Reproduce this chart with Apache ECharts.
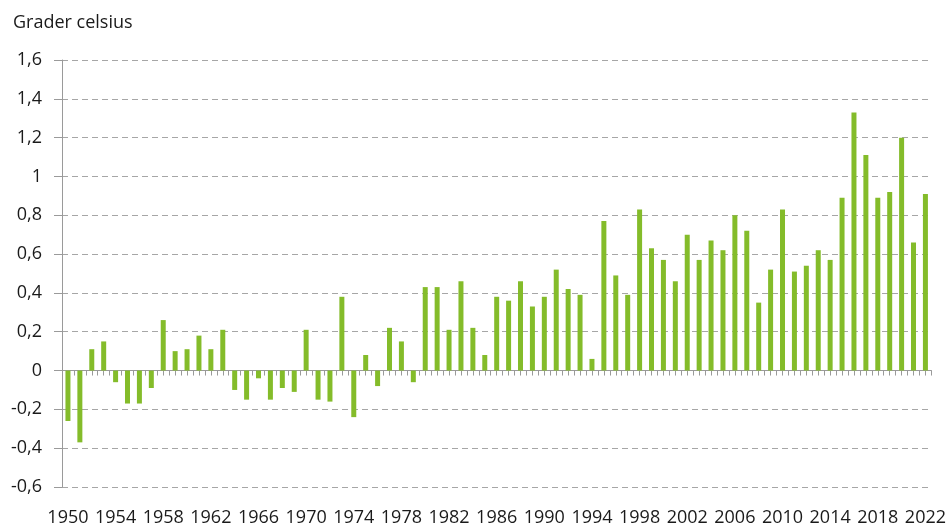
<!DOCTYPE html>
<html>
<head>
<meta charset="utf-8">
<script src="https://cdn.jsdelivr.net/npm/echarts@6/dist/echarts.min.js"></script>
<style>
html,body{margin:0;padding:0;background:#fff;}
#chart{width:949px;height:527px;}
</style>
</head>
<body>
<div id="chart"></div>
<script>
var years = [];
for (var y = 1950; y <= 2022; y++) years.push(String(y));

var anomalies = [
  -0.26, -0.37, 0.11, 0.15, -0.06, -0.17, -0.17, -0.09, 0.26, 0.10,
  0.11, 0.18, 0.11, 0.21, -0.10, -0.15, -0.04, -0.15, -0.09, -0.11,
  0.21, -0.15, -0.16, 0.38, -0.24, 0.08, -0.08, 0.22, 0.15, -0.06,
  0.43, 0.43, 0.21, 0.46, 0.22, 0.08, 0.38, 0.36, 0.46, 0.33,
  0.38, 0.52, 0.42, 0.39, 0.06, 0.77, 0.49, 0.39, 0.83, 0.63,
  0.57, 0.46, 0.70, 0.57, 0.67, 0.62, 0.80, 0.72, 0.35, 0.52,
  0.83, 0.51, 0.54, 0.62, 0.57, 0.89, 1.33, 1.11, 0.89, 0.92,
  1.20, 0.66, 0.91
];

var yMin = -0.6, yMax = 1.6, yStep = 0.2;
var unitLabel = 'Grader celsius';

var FONT = '"Open Sans", "Noto Sans", sans-serif';
var chart = echarts.init(document.getElementById('chart'), null, {renderer: 'canvas'});

function fmt(v) {
  return String(Number(v.toFixed(1))).replace('.', ',');
}

chart.setOption({
  animation: false,
  backgroundColor: '#ffffff',
  title: {
    text: unitLabel,
    left: 8, top: 9,
    textStyle: {fontFamily: FONT, fontSize: 18, fontWeight: 'normal', color: '#1a1a1a'}
  },
  grid: {left: 62, right: 17, top: 60, bottom: 38, containLabel: false},
  xAxis: [
    {
      type: 'category', data: years, position: 'bottom',
      axisLine: {show: true, onZero: true, onZeroAxisIndex: 0, lineStyle: {color: '#9a9a9a', width: 1}},
      axisTick: {show: true, interval: 0, alignWithLabel: false, length: 5, lineStyle: {color: '#9a9a9a'}},
      axisLabel: {show: false},
      splitLine: {show: false}
    },
    {
      type: 'category', data: years, position: 'bottom',
      axisLine: {show: false, onZero: true, onZeroAxisIndex: 0},
      axisTick: {show: true, interval: 0, alignWithLabel: true, length: 5, lineStyle: {color: '#9a9a9a'}},
      axisLabel: {show: false},
      splitLine: {show: false}
    },
    {
      type: 'category', data: years, position: 'bottom',
      axisLine: {show: false, onZero: false},
      axisTick: {show: false},
      axisLabel: {show: true, interval: 3, margin: 22, fontFamily: FONT, fontSize: 18, color: '#1a1a1a'},
      splitLine: {show: false}
    }
  ],
  yAxis: {
    type: 'value', min: yMin, max: yMax, interval: yStep,
    axisLine: {show: true, lineStyle: {color: '#9a9a9a', width: 1}},
    axisTick: {show: true, length: 8, lineStyle: {color: '#9a9a9a'}},
    axisLabel: {margin: 20, fontFamily: FONT, fontSize: 18, color: '#1a1a1a', formatter: fmt},
    splitLine: {show: true, lineStyle: {color: '#a6a6a6', width: 1, type: [6, 4]}}
  },
  series: [{
    type: 'bar',
    xAxisIndex: 0,
    data: anomalies,
    barWidth: 5,
    itemStyle: {color: '#84bc2a'}
  }]
});
</script>
</body>
</html>
